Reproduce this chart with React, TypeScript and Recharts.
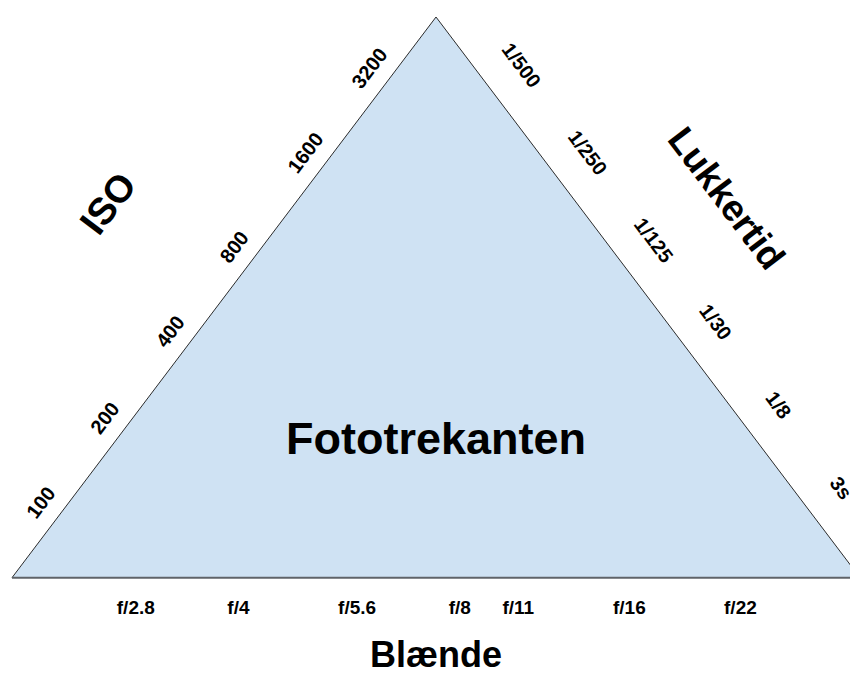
import { ComposedChart, Area, Scatter, XAxis, YAxis, ReferenceLine } from 'recharts';

// triangle outline (x = % of base, y = % of height)
const triangleX = [0, 50, 100];
const triangleY = [0, 100, 0];

// ISO along the left side, shutter speeds along the right side (level = % of height)
const isoLabels = ['100', '200', '400', '800', '1600', '3200'];
const isoLevels = [13.4, 28.5, 43.9, 59.0, 75.8, 90.9];
const shutterLabels = ['3s', '1/8', '1/30', '1/125', '1/250', '1/500'];
const shutterLevels = [16.0, 30.8, 45.6, 60.2, 75.8, 91.4];

// apertures along the base (% of base)
const apertureLabels = ['f/2.8', 'f/4', 'f/5.6', 'f/8', 'f/11', 'f/16', 'f/22'];
const aperturePositions = [14.6, 26.7, 40.7, 52.8, 59.7, 72.8, 85.9];

const FONT = '"Liberation Sans", Arial, sans-serif';
const SIDE_ANGLE = 52.9;

const triangle = triangleX.map((x, i) => ({ x, y: triangleY[i] }));
const isoData = isoLabels.map((label, i) => ({ x: isoLevels[i] / 2, y: isoLevels[i], label }));
const shutterData = shutterLabels.map((label, i) => ({ x: 100 - shutterLevels[i] / 2, y: shutterLevels[i], label }));
const apertureData = apertureLabels.map((label, i) => ({ x: aperturePositions[i], y: -5.35, label }));

const titles = [
  { x: 50, y: 24.8, label: 'Fototrekanten', size: 45, angle: 0 },
  { x: 50, y: -13.7, label: 'Blænde', size: 36, angle: 0 },
  { x: 11.3, y: 66.8, label: 'ISO', size: 38, angle: -SIDE_ANGLE },
  { x: 84.3, y: 67.7, label: 'Lukkertid', size: 37, angle: SIDE_ANGLE },
];

const makeLabel = (size: number, angle: number, dx: number) => (props: any) => {
  const { cx, cy, payload } = props;
  const x = cx + dx;
  return (
    <text
      x={x}
      y={cy}
      dy="0.35em"
      textAnchor="middle"
      fontFamily={FONT}
      fontWeight="bold"
      fontSize={size}
      fill="#000"
      transform={angle ? `rotate(${angle} ${x} ${cy})` : undefined}
    >
      {payload.label}
    </text>
  );
};

const TitleLabel = (props: any) => {
  const { cx, cy, payload } = props;
  return (
    <text
      x={cx}
      y={cy}
      dy="0.35em"
      textAnchor="middle"
      fontFamily={FONT}
      fontWeight="bold"
      fontSize={payload.size}
      fill="#000"
      transform={payload.angle ? `rotate(${payload.angle} ${cx} ${cy})` : undefined}
    >
      {payload.label}
    </text>
  );
};

export default function App() {
  return (
    <div style={{ position: 'fixed', left: 0, top: 0, width: 850, height: 673, overflow: 'hidden', background: '#fff' }}>
      <ComposedChart width={860} height={673} margin={{ top: 17, right: 0, left: 12, bottom: 0 }}>
        <XAxis type="number" dataKey="x" domain={[0, 100]} hide />
        <YAxis type="number" dataKey="y" domain={[-17, 100]} hide />
        <Area
          data={triangle}
          dataKey="y"
          type="linear"
          baseValue={0}
          fill="#cfe2f3"
          fillOpacity={1}
          stroke="#2b2b2b"
          strokeWidth={1}
          isAnimationActive={false}
        />
        <ReferenceLine y={0} stroke="#5f6368" strokeWidth={2} />
        <Scatter data={isoData} shape={makeLabel(20, -SIDE_ANGLE, -28)} isAnimationActive={false} />
        <Scatter data={shutterData} shape={makeLabel(20, SIDE_ANGLE, 49)} isAnimationActive={false} />
        <Scatter data={apertureData} shape={makeLabel(19, 0, 0)} isAnimationActive={false} />
        <Scatter data={titles} shape={TitleLabel} isAnimationActive={false} />
      </ComposedChart>
    </div>
  );
}
